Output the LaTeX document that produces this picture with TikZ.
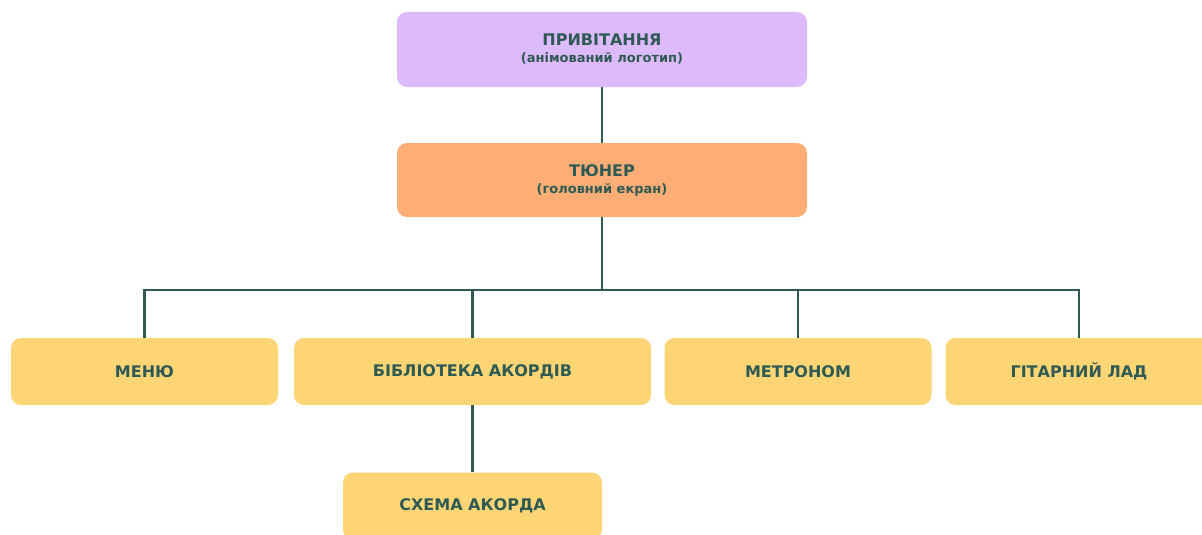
\documentclass[tikz,border=0pt]{standalone}
\usepackage{fontspec}
\setmainfont{DejaVu Sans}
\usetikzlibrary{positioning}
\definecolor{lilac}{HTML}{DDBAFB}
\definecolor{peach}{HTML}{FDAE76}
\definecolor{sand}{HTML}{FDD575}
\definecolor{pine}{HTML}{2E5A53}
\tikzset{
  screen/.style={rounded corners=10pt, draw=none, text=pine, align=center,
    font=\bfseries\fontsize{16}{19}\selectfont, inner sep=0pt},
  link/.style={draw=pine, line width=2.7pt},
}
\newcommand{\subline}[1]{\\[-2pt]{\fontsize{13}{15}\selectfont #1}}
\begin{document}
\begin{tikzpicture}[x=1pt, y=-1pt]
				\useasboundingbox (0,0) rectangle (1202,535);
				\clip (0,0) rectangle (1202,535);
				\node[screen, fill=lilac, minimum width=410pt, minimum height=75pt] (greet) at (602,49.5) {ПРИВІТАННЯ\subline{(анімований логотип)}};
				\node[screen, fill=peach, minimum width=410pt, minimum height=74pt] (tuner) at (602,180) {ТЮНЕР\subline{(головний екран)}};
				\node[screen, fill=sand, minimum width=267pt, minimum height=67pt] (menu) at (144.5,371.5) {МЕНЮ};
				\node[screen, fill=sand, minimum width=357pt, minimum height=67pt] (chords) at (472.5,371.5) {БІБЛІОТЕКА АКОРДІВ};
				\node[screen, fill=sand, minimum width=267pt, minimum height=67pt] (metro) at (798,371.5) {МЕТРОНОМ};
				\node[screen, fill=sand, minimum width=267pt, minimum height=67pt] (fret) at (1079,371.5) {ГІТАРНИЙ ЛАД};
				\node[screen, fill=sand, minimum width=259pt, minimum height=67pt] (scheme) at (472.5,506) {СХЕМА АКОРДА};
				\coordinate (bus) at (602,290);
				\draw[link] (greet) -- (tuner);
				\draw[link] (tuner) -- (bus);
				\draw[link] (menu.north) |- (bus) -| (fret.north);
				\foreach \n in {chords, metro} {
					\draw[link] (\n.north) -- (\n.north |- bus);
				}
				\draw[link] (chords) -- (scheme);
			\end{tikzpicture}
\end{document}
